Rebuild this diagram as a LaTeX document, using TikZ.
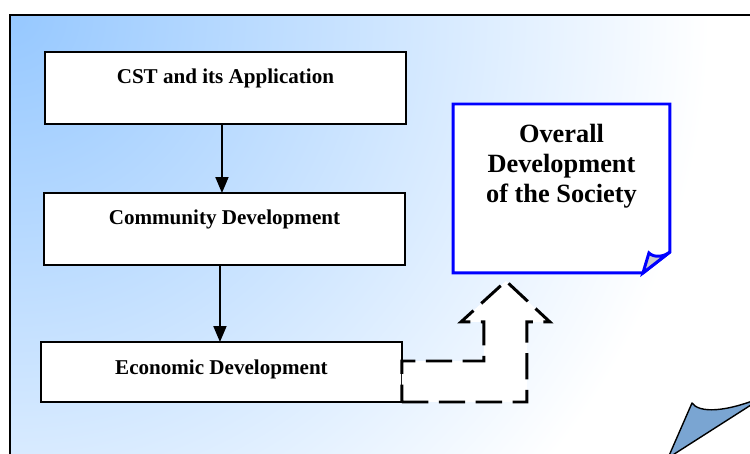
\documentclass[tikz,border=0pt]{standalone}
\usepackage{fontspec}
\setmainfont{Liberation Serif}
\usepackage{xcolor}
\usetikzlibrary{calc,positioning,arrows.meta}

\definecolor{skyTop}{RGB}{150,200,255}
\definecolor{noteBlue}{RGB}{0,0,255}
\definecolor{curlBlue}{RGB}{122,165,210}

\begin{document}
\begin{tikzpicture}[x=0.02cm, y=-0.02cm, node distance=2mm]
  % requires: \usetikzlibrary{calc,positioning,arrows.meta}
  \tikzset{
    devBox/.style={draw=black, line width=0.7pt, fill=white, inner sep=0pt, outer sep=0pt, minimum width=7.22cm, text height=0.64cm, text depth=0.80cm, font=\fontsize{12}{14}\selectfont\bfseries},
    noteFrame/.style={draw=noteBlue, line width=1.7pt, fill=white, line join=miter},
    noteLabel/.style={inner sep=0pt, align=center, font=\fontsize{15}{17}\selectfont\bfseries},
    flowArrow/.style={-{Triangle[length=0.32cm,width=0.26cm]}, line width=1.1pt},
    bentArrow/.style={draw=black, fill=white, line width=1.7pt, dash pattern=on 15pt off 6pt, line join=miter}
  }

% --- Canvas and shaded background ---
  \path[use as bounding box, clip] (0,0) rectangle (750,453);
  \fill[white] (0,0) rectangle (750,453);
  \begin{scope}
    \clip (10,15) rectangle (780,480);
    \shade[inner color=skyTop, outer color=white] (10,15) circle (14cm);
  \end{scope}
  \draw[line width=1.2pt] (10,480) -- (10,15) -- (780,15);

  % page curl in the lower right corner
  \draw[fill=curlBlue, line width=0.8pt, line join=round] (668,458) -- (692,403) .. controls (699,413) and (725,413) .. (765,396) -- cycle;

% --- Development chain ---
  \node[devBox, anchor=north west] (cst) at (45,52) {CST and its Application};
  \node[devBox, anchor=north west] (community) at (44,193) {Community Development};
  \node[devBox, anchor=north west, text depth=0.56cm] (economic) at (41,342) {Economic Development};

  \coordinate (cstOut) at ($(cst.south)+(-3.5,0)$);
  \coordinate (communityOut) at ($(community.south)+(-4.5,0)$);
  \draw[flowArrow] (cstOut) -- (cstOut |- community.north);
  \draw[flowArrow] (communityOut) -- (communityOut |- economic.north);

% --- Note with folded corner ---
  \node[inner sep=0pt, outer sep=0pt, minimum width=4.34cm, minimum height=3.38cm, anchor=north west] (note) at (453,104) {};
  \draw[noteFrame] (note.north west) -- (note.north east) -- ($(note.south east)+(0,-21)$) -- ($(note.south east)+(-27,0)$) -- (note.south west) -- cycle;
  \draw[noteFrame, fill=black!20] ($(note.south east)+(-27,0)$) -- ($(note.south east)+(-21,-20)$) .. controls ($(note.south east)+(-16,-15)$) and ($(note.south east)+(-6,-16)$) .. ($(note.south east)+(0,-21)$) -- cycle;
  \node[noteLabel, anchor=north] (noteText) at ($(note.north)+(0,20)$) {Overall\\Development\\of the Society};

% --- Dashed bent arrow up to the note ---
  \draw[bentArrow] (economic.south east) -- ++(125,0) -- ++(0,-80) -- ++(23,0) -- ++(-44,-41) -- ++(-45,41) -- ++(23,0) -- ++(0,39) -- ($(economic.north east)+(0,19)$) -- cycle;

\end{tikzpicture}
\end{document}
